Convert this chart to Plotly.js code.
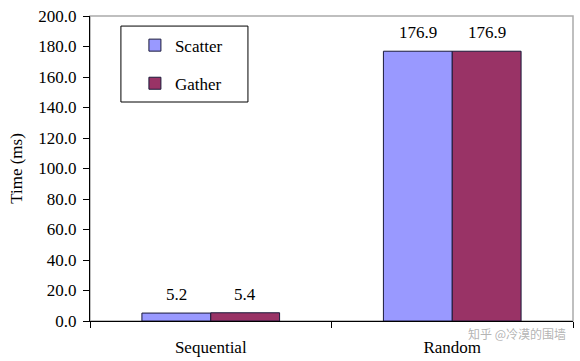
<!DOCTYPE html>
<html>
<head>
<meta charset="utf-8">
<script src="https://cdn.plot.ly/plotly-3.0.1.min.js"></script>
<style>html,body{margin:0;padding:0;background:#fff;}#chart{width:580px;height:361px;}</style>
</head>
<body>
<div id="chart"></div>
<script>
var categories = ["Sequential", "Random"];
var scatterValues = [5.2, 176.9];
var gatherValues = [5.4, 176.9];
var seriesNames = ["Scatter", "Gather"];
var yTickValues = [0, 20, 40, 60, 80, 100, 120, 140, 160, 180, 200];
var yTickLabels = ["0.0", "20.0", "40.0", "60.0", "80.0", "100.0", "120.0", "140.0", "160.0", "180.0", "200.0"];

var font = "Liberation Serif, Times New Roman, serif";
function mk(name, vals, color, grp) {
  return {
    type: "bar", name: name, x: categories, y: vals,
    legendgroup: grp,
    marker: {color: color, line: {color: "#1a1a3a", width: 1}},
    hoverinfo: "none"
  };
}
var data = [mk(seriesNames[0], scatterValues, "#9999FF", "a"), mk(seriesNames[1], gatherValues, "#993366", "b")];

var annotations = [];
[scatterValues, gatherValues].forEach(function(vals, si) {
  vals.forEach(function(v, i) {
    annotations.push({x: categories[i], y: v, xref: "x", yref: "y", xanchor: "center", yanchor: "bottom",
      xshift: si === 0 ? -34.5 : 34.5, yshift: 7, showarrow: false, text: v.toFixed(1),
      font: {family: font, size: 17, color: "#000"}});
  });
});
annotations.push({xref: "paper", yref: "paper", x: 1, y: 0, xanchor: "right", yanchor: "top", yshift: -2, xshift: -5,
  text: "知乎 @冷漠的围墙", showarrow: false,
  font: {family: "Noto Sans CJK SC", size: 12, color: "rgba(160,160,160,0.8)"}});

var layout = {
  width: 580, height: 361,
  margin: {l: 90, r: 7, t: 16, b: 40},
  paper_bgcolor: "#fff", plot_bgcolor: "#fff",
  barmode: "group", bargap: 0.43, bargroupgap: 0,
  showlegend: true,
  legend: {
    x: 0.093, y: 0.962, xanchor: "left", yanchor: "top",
    borderwidth: 0, bgcolor: "rgba(0,0,0,0)",
    font: {family: font, size: 17, color: "#000"},
    traceorder: "grouped", tracegroupgap: 13,
    itemwidth: 30
  },
  xaxis: {
    showline: true, linecolor: "#000", linewidth: 1,
    ticks: "outside", tickson: "boundaries", ticklen: 6, tickcolor: "#000",
    tickfont: {family: font, size: 17, color: "#000"}, ticklabelstandoff: 11,
    showgrid: false, zeroline: false, fixedrange: true
  },
  yaxis: {
    range: [0, 200], showline: true, linecolor: "#000", linewidth: 1,
    tickmode: "array", tickvals: yTickValues, ticktext: yTickLabels,
    ticks: "outside", ticklen: 6, tickcolor: "#000",
    tickfont: {family: font, size: 17, color: "#000"}, ticklabelstandoff: 3,
    showgrid: false, zeroline: false,
    title: {text: "Time (ms)", font: {family: font, size: 17, color: "#000"}, standoff: 11}
  },
  shapes: [
    {type: "rect", xref: "paper", yref: "paper", x0: 0, x1: 1, y0: 0, y1: 1,
     line: {color: "#aaaaaa", width: 1.5}, layer: "below"},
    {type: "rect", xref: "paper", yref: "paper", x0: 0.064, x1: 0.327, y0: 0.718, y1: 0.967,
     line: {color: "#000", width: 1}, fillcolor: "#fff", layer: "below"}
  ],
  annotations: annotations
};
Plotly.newPlot("chart", data, layout, {displayModeBar: false, staticPlot: true});
</script>
</body>
</html>
